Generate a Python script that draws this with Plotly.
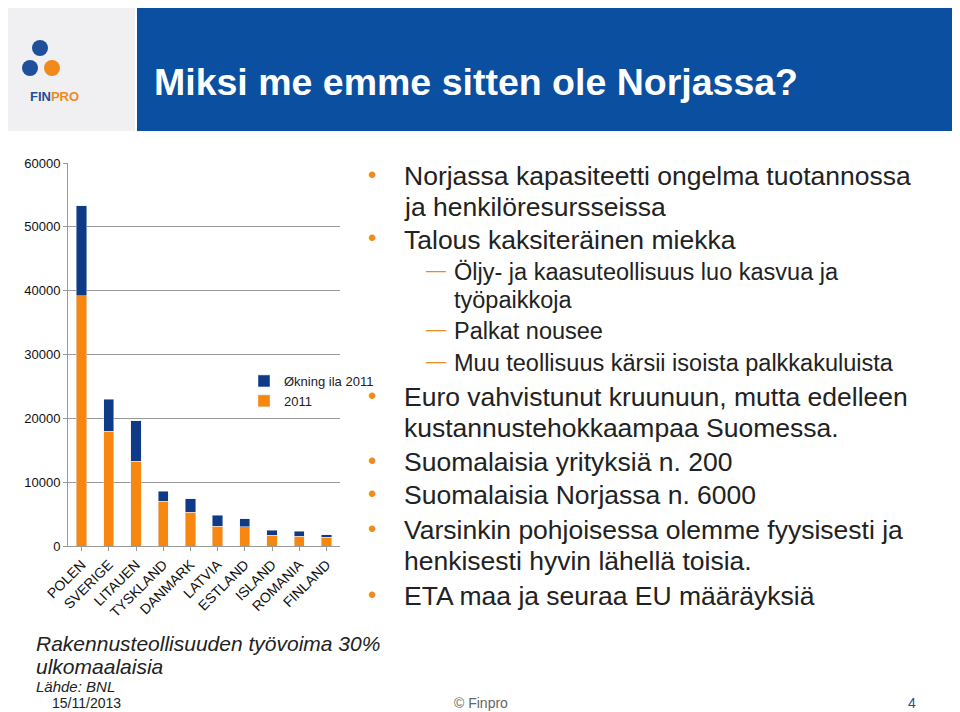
import plotly.graph_objects as go

countries = ["POLEN","SVERIGE","LITAUEN","TYSKLAND","DANMARK","LATVIA","ESTLAND","ISLAND","ROMANIA","FINLAND"]
base_2011 = [39200,18000,13300,7000,5300,3100,3000,1700,1500,1400]
increase_2011 = [14100,5000,6300,1600,2100,1700,1300,800,800,400]
yticks = [0,10000,20000,30000,40000,50000,60000]
ytick_labels = [str(v) for v in yticks]

W, H = 952, 704
OFF = 8
def px(x): return (x - OFF) / W
def py(y): return 1 - (y - OFF) / H

fig = go.Figure()
fig.add_bar(x=countries, y=base_2011, name="2011", marker_color="#F7870F", width=0.38)
fig.add_bar(x=countries, y=increase_2011, name="Økning ila 2011", marker_color="#0E3A87", width=0.38)

F = "Liberation Sans, Arial, sans-serif"
fig.update_layout(
    width=W, height=H, barmode="stack", margin=dict(l=0, r=0, t=0, b=0, autoexpand=False),
    paper_bgcolor="white", plot_bgcolor="white", font=dict(family=F, color="#222"),
    xaxis=dict(domain=[px(68), px(340)], tickangle=-45, tickfont=dict(size=14, color="#111"),
               showline=True, linecolor="#999", ticks="outside", tickcolor="#999", ticklen=4,
               automargin=False),
    yaxis=dict(domain=[py(546), py(163)], range=[0, 60000], tickvals=yticks, ticktext=ytick_labels,
               tickfont=dict(size=13, color="#111"), gridcolor="#999", showline=True,
               linecolor="#999", zeroline=False, ticks="outside", tickcolor="#999", ticklen=4,
               automargin=False),
    legend=dict(x=px(244), y=py(366), xanchor="left", yanchor="top", traceorder="reversed",
                font=dict(size=13), bgcolor="rgba(0,0,0,0)", itemwidth=30, tracegroupgap=2),
    showlegend=True,
)

shapes = [
    dict(type="rect", xref="paper", yref="paper", x0=px(137), x1=1, y0=py(131), y1=py(2),
         fillcolor="#0A4FA0", line_width=0, layer="below"),
    dict(type="rect", xref="paper", yref="paper", x0=px(0), x1=px(135), y0=py(131), y1=py(0),
         fillcolor="#F0F0F3", line_width=0, layer="below"),
]
for (cx, cy, col) in [(40, 48, "#1D4F9A"), (30, 68, "#1D4F9A"), (52, 68, "#F08A1C")]:
    shapes.append(dict(type="circle", xref="paper", yref="paper",
                       x0=px(cx-8), x1=px(cx+8), y0=py(cy+8), y1=py(cy-8),
                       fillcolor=col, line_width=0))
fig.update_layout(shapes=shapes)

ann = []
def t(x, y, s, size, color="#222", bold=False, italic=False, family=F, anchor="left"):
    if bold: s = "<b>" + s + "</b>"
    if italic: s = "<i>" + s + "</i>"
    ann.append(dict(x=px(x), y=py(y), xref="paper", yref="paper", text=s, showarrow=False,
                    xanchor=anchor, yanchor="middle", align="left",
                    font=dict(size=size, color=color, family=family)))

t(28, 96, "FIN<span style='color:#F08A1C'>PRO</span>", 13, color="#1D4F9A", bold=True)
t(152, 82, "Miksi me emme sitten ole Norjassa?", 37.5, color="white", bold=True)

bul = [
    (176, "Norjassa kapasiteetti ongelma tuotannossa", True),
    (207, "ja henkilöresursseissa", False),
    (240, "Talous kaksiteräinen miekka", True),
    (397, "Euro vahvistunut kruunuun, mutta edelleen", True),
    (428, "kustannustehokkaampaa Suomessa.", False),
    (462, "Suomalaisia yrityksiä n. 200", True),
    (495, "Suomalaisia Norjassa n. 6000", True),
    (530, "Varsinkin pohjoisessa olemme fyysisesti ja", True),
    (561, "henkisesti hyvin lähellä toisia.", False),
    (596, "ETA maa ja seuraa EU määräyksiä", True),
]
for y, s, dot in bul:
    t(402, y, s, 26.5)
    if dot:
        t(366, y - 2, "•", 24, color="#F08A1C")
subs = [(272, "Öljy- ja kaasuteollisuus luo kasvua ja", True), (300, "työpaikkoja", False),
        (331, "Palkat nousee", True), (363, "Muu teollisuus kärsii isoista palkkakuluista", True)]
for y, s, dash in subs:
    t(452, y, s, 23.5)
    if dash:
        t(424, y - 2, "—", 20, color="#F08A1C")

t(34, 643, "Rakennusteollisuuden työvoima 30%", 21, italic=True)
t(34, 666, "ulkomaalaisia", 21, italic=True)
t(34, 686, "Lähde: BNL", 15, italic=True)
t(50, 703, "15/11/2013", 14)
t(452, 703, "© Finpro", 14, color="#666")
t(906, 703, "4", 14, color="#1D4F9A")
fig.update_layout(annotations=ann)

fig.write_html("out.html")
